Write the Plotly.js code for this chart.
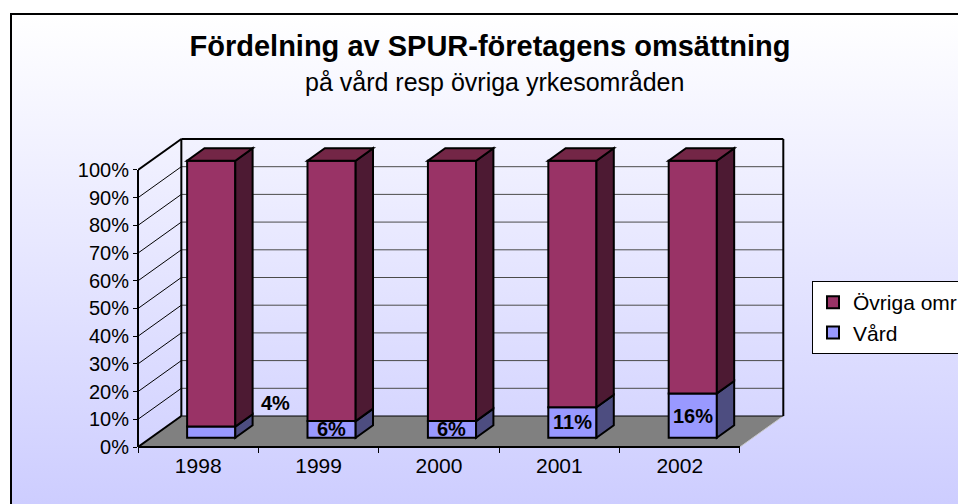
<!DOCTYPE html>
<html><head><meta charset="utf-8">
<script src="https://cdn.plot.ly/plotly-3.0.1.min.js"></script>
<style>
html,body{margin:0;padding:0;width:958px;height:504px;overflow:hidden;background:#fff;}
#frame{position:absolute;left:10px;top:13px;width:1000px;height:500px;border-left:2px solid #000;border-top:2px solid #000;background:linear-gradient(to bottom,#ffffff 0%,#ccccff 100%);}
#chart{position:absolute;left:0;top:0;width:958px;height:504px;}
</style></head>
<body><div id="frame"></div><div id="chart"></div>
<script>
// ---- data ----
const categories = ['1998', '1999', '2000', '2001', '2002'];
const vard = [4, 6, 6, 11, 16];
const ovriga = [96, 94, 94, 89, 84];
const seriesNames = ['Övriga omr', 'Vård'];
const yTickVals = [0, 10, 20, 30, 40, 50, 60, 70, 80, 90, 100];
const yTickText = yTickVals.map(v => v + '%');
const titleText = 'Fördelning av SPUR-företagens omsättning';
const subtitleText = 'på vård resp övriga yrkesområden';

// ---- pseudo-3D geometry (axis units) ----
const DX = 0.36, DY = 11.19;      // depth of the box
const F = 0.3, B = 0.7, BW = 0.4; // bar depth slice and width
const X0 = -0.5, X1 = categories.length - 0.5;
const xRange = [-0.5, 4.899], yRange = [0, 112.27];
const FONT = 'Liberation Sans, Arial, sans-serif';

const idx = categories.map((c, i) => i);
const barX = idx.map(i => i + F * DX);
const base0 = F * DY;

const colV = '#9999FF', colVside = '#4D4D80';
const colO = '#993366', colOside = '#4D1A33', colOtop = '#732646';

const traces = [
  { type: 'bar', name: seriesNames[1], x: barX, y: vard, base: vard.map(() => base0),
    width: BW, marker: { color: colV, line: { color: '#000', width: 2 } },
    legendrank: 2, hoverinfo: 'skip' },
  { type: 'bar', name: seriesNames[0], x: barX, y: ovriga, base: vard.map(v => base0 + v),
    width: BW, marker: { color: colO, line: { color: '#000', width: 2 } },
    legendrank: 1, hoverinfo: 'skip' }
];

const shapes = [];
const L = (x0, y0, x1, y1, color, width, layer, xref, yref) => shapes.push({
  type: 'line', x0, y0, x1, y1, xref: xref || 'x', yref: yref || 'y',
  line: { color, width }, layer: layer || 'below' });
const P = (pts, fill, layer) => shapes.push({
  type: 'path', xref: 'x', yref: 'y', layer: layer || 'above', fillcolor: fill,
  line: { color: '#000', width: 2 },
  path: 'M' + pts.map(p => p[0] + ',' + p[1]).join(' L') + ' Z' });

// floor
shapes.push({ type: 'path', xref: 'x', yref: 'y', layer: 'below', fillcolor: '#808080',
  line: { width: 0 }, path: `M${X0},0 L${X1},0 L${X1 + DX},${DY} L${X0 + DX},${DY} Z` });
L(X1, 0, X1 + DX, DY, '#c8c8c8', 1);
L(X0 + DX, DY, X1 + DX, DY, '#000', 1);
// walls & gridlines
yTickVals.forEach(v => {
  if (v > 0 && v < 100) {
    L(X0 + DX, v + DY, X1 + DX, v + DY, '#4a4a4a', 1);
    L(X0, v, X0 + DX, v + DY, '#000', 1);
  }
});
L(X0 + DX, 100 + DY, X1 + DX, 100 + DY, '#000', 2);
L(X0 + DX, DY, X0 + DX, 100 + DY, '#000', 2);
L(X1 + DX, DY, X1 + DX, 100 + DY, '#000', 2);
L(X0, 100, X0 + DX, 100 + DY, '#000', 2);
L(X0, 0, X0 + DX, DY, '#000', 2);
L(0, 0, 0, 100, '#000', 2, 'above', 'paper', 'y');
L(X0, 0, X1, 0, '#000', 2, 'above', 'x', 'paper');

// bar side and top faces
const dBx = (B - F) * DX, dBy = (B - F) * DY;
idx.forEach(i => {
  const xl = barX[i] - BW / 2, xr = barX[i] + BW / 2;
  const v0 = base0, v1 = base0 + vard[i], v2 = base0 + vard[i] + ovriga[i];
  P([[xr, v0], [xr + dBx, v0 + dBy], [xr + dBx, v1 + dBy], [xr, v1]], colVside);
  P([[xr, v1], [xr + dBx, v1 + dBy], [xr + dBx, v2 + dBy], [xr, v2]], colOside);
  P([[xl, v2], [xr, v2], [xr + dBx, v2 + dBy], [xl + dBx, v2 + dBy]], colOtop);
});

// data labels
const annotations = idx.map(i => {
  const first = i === 0;
  return {
    xref: 'x', yref: 'y', showarrow: false,
    x: first ? i + 0.646 : barX[i],
    y: first ? base0 + vard[i] + 8.6 : base0 + vard[i] / 2,
    text: '<b>' + vard[i] + '%</b>',
    font: { family: FONT, size: 20, color: '#000' }
  };
});
annotations.push({
  xref: 'paper', yref: 'paper', x: 0.549, y: 1.1736, xanchor: 'center', yanchor: 'middle',
  showarrow: false, text: subtitleText, font: { family: FONT, size: 25, color: '#000' }
});

const layout = {
  width: 958, height: 504,
  margin: { l: 138, r: 170, t: 136, b: 57, autoexpand: false },
  paper_bgcolor: 'rgba(0,0,0,0)', plot_bgcolor: 'rgba(0,0,0,0)',
  barmode: 'overlay',
  title: { text: '<b>' + titleText + '</b>', x: 0.5115, xanchor: 'center', xref: 'container',
    y: 0.9087, yanchor: 'middle', yref: 'container',
    font: { family: FONT, size: 29, color: '#000' } },
  xaxis: { range: xRange, tickvals: idx, ticktext: categories, ticks: '',
    showgrid: false, zeroline: false, showline: false, fixedrange: true,
    ticklabelstandoff: 4,
    tickfont: { family: FONT, size: 21, color: '#000' },
    minor: { tickvals: idx.concat([categories.length]).map(i => i - 0.5), ticks: 'outside',
      ticklen: 5, tickwidth: 1, tickcolor: '#000', showgrid: false } },
  yaxis: { range: yRange, tickvals: yTickVals, ticktext: yTickText, ticks: 'outside',
    ticklen: 4, tickwidth: 1, tickcolor: '#000', showgrid: false, zeroline: false,
    showline: false, fixedrange: true,
    tickfont: { family: FONT, size: 20, color: '#000' } },
  showlegend: true,
  legend: { xref: 'container', yref: 'container', x: 812 / 958, y: 1 - 281 / 504,
    xanchor: 'left', yanchor: 'top', traceorder: 'normal',
    bgcolor: '#fff', bordercolor: '#000', borderwidth: 1,
    font: { family: FONT, size: 21, color: '#000' } },
  shapes, annotations
};

Plotly.newPlot('chart', traces, layout, { staticPlot: true, displayModeBar: false });
</script>
</body></html>
